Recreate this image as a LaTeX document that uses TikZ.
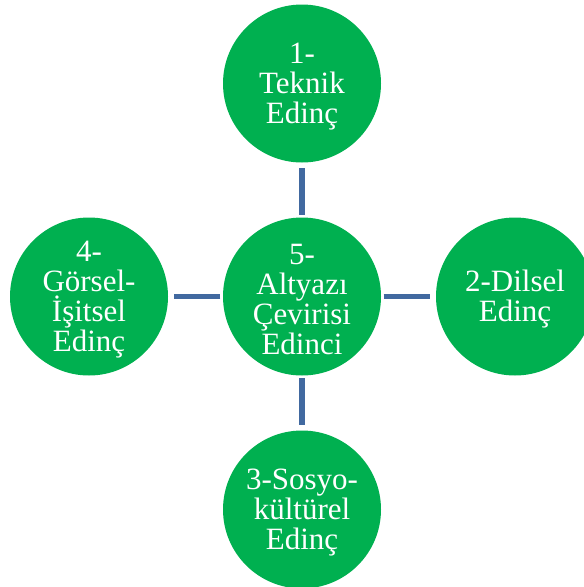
\documentclass[tikz,border=0pt]{standalone}
\usepackage{fontspec}
\setmainfont{Liberation Serif}
\definecolor{edgreen}{RGB}{0,176,80}
\definecolor{edblue}{RGB}{65,105,160}
\begin{document}
\begin{tikzpicture}[x=1pt,y=-1pt,
  bubble/.style={circle,fill=edgreen,draw=none,minimum size=158pt,inner sep=0pt},
  caption/.style={text=white,align=center,inner sep=0pt,yshift=-3pt,
    font=\fontsize{31pt}{30pt}\selectfont},
  link/.style={draw=edblue,line width=5.3pt,shorten <=2.5pt,shorten >=5.5pt}]
\useasboundingbox (0,0) rectangle (584,587);
\clip (0,0) rectangle (584,587);
\node[bubble] (c) at (302,296.5) {};
\node[bubble] (t) at (302,83.5) {};
\node[bubble] (l) at (89,296.5) {};
\node[bubble] (r) at (515,296.5) {};
\node[bubble] (b) at (302,509.5) {};
\node[caption] (ct) at (c.center) {5-\\Altyazı\\Çevirisi\\Edinci};
\node[caption] (tt) at (t.center) {1-\\Teknik\\Edinç};
\node[caption] (lt) at (l.center) {4-\\Görsel-\\İşitsel\\Edinç};
\node[caption] (rt) at (r.center) {2-Dilsel\\Edinç};
\node[caption] (bt) at (b.center) {3-Sosyo-\\kültürel\\Edinç};
\draw[link] (c.north) -- (t.south);
\draw[link] (c.west) -- (l.east);
\draw[link] (c.east) -- (r.west);
\draw[link] (c.south) -- (b.north);
\end{tikzpicture}
\end{document}
